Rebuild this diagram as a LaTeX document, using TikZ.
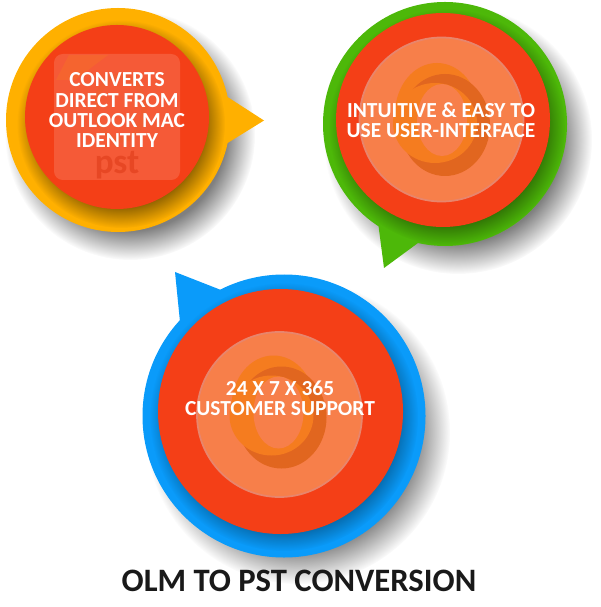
\documentclass[tikz,border=0pt]{standalone}
\usepackage{fontspec}
\setmainfont{Carlito}
\usetikzlibrary{fadings}
\pgfdeclareradialshading{softshading}{\pgfpointorigin}{color(0bp)=(white!50!black);color(19bp)=(white!50!black);color(25bp)=(black);color(50bp)=(black)}
\pgfdeclarefading{softfade}{\pgfuseshading{softshading}}
\definecolor{discred}{HTML}{F43F17}
\definecolor{discyellow}{HTML}{FFB000}
\definecolor{discgreen}{HTML}{4DB809}
\definecolor{discblue}{HTML}{0A9BFA}
\definecolor{paleorange}{HTML}{F77F4A}
\definecolor{rimorange}{HTML}{E8856C}
\definecolor{logoorange}{HTML}{F57C1F}
\definecolor{logodark}{HTML}{E1661F}
\tikzset{
  softshadow/.style={fill=black,path fading=softfade,fit fading=true},
  caption/.style={text=white,font=\fontsize{12.2}{11.4}\selectfont\bfseries,align=center,inner sep=0pt},
  title/.style={text=black!90,font=\fontsize{18.6}{22}\selectfont\bfseries,inner sep=0pt}
}
\begin{document}
\begin{tikzpicture}[x=0.02cm,y=-0.02cm]
 \useasboundingbox (0,0) rectangle (600,607);
 % shadows on the page
 \fill[softshadow] (130,135) circle (125);
 \fill[softshadow] (458,140) circle (134);
 \fill[softshadow] (298,432) circle (152);
 % yellow bubble
 \fill[discyellow] (226,96)--(264,120.5)--(226,144)--cycle;
 \fill[discyellow] (118,120) circle (112);
 \begin{scope}
  \clip (118,120) circle (112);
  \fill[softshadow] (121,124) circle (104);
 \end{scope}
 \fill[discred] (117,117) circle (92);
 \fill[white,opacity=.14,rounded corners=5pt] (54,54) rectangle (180,180);
 \fill[logoorange,opacity=.3] (69,55)--(108,55)--(75,80)--(56,80)--cycle;
 \draw[logodark,opacity=.2,line width=3pt] (120,108) ellipse (24 and 32);
 \node[inner sep=0pt,text opacity=.55] (pst) at (117,165) {\textcolor{discred!90!black}{\fontsize{20}{20}\selectfont\bfseries pst}};
 % green bubble
 \fill[discgreen] (378,222)--(384,268)--(418,243)--cycle;
 \fill[discgreen] (445,124) circle (122);
 \begin{scope}
  \clip (445,124) circle (122);
  \fill[softshadow] (447,127) circle (118);
 \end{scope}
 \fill[discred] (443,120) circle (107);
 \fill[paleorange,draw=rimorange,line width=1pt] (441.5,119.5) circle (82);
 % blue bubble
 \fill[discblue] (175,272)--(221,290)--(180,322)--cycle;
 \fill[discblue] (284,416) circle (141.5);
 \begin{scope}
  \clip (284,416) circle (141.5);
  \fill[softshadow] (284,417) circle (134);
 \end{scope}
 \fill[discred] (280.5,411.5) circle (122.5);
 \fill[paleorange,draw=rimorange,line width=1pt] (279.5,414.5) circle (82.5);
 % logo swirls
 \foreach \cx/\cy in {442/120,278.5/412.5}{
  \fill[logoorange] (\cx-5,\cy-6) ellipse (42 and 51);
  \fill[logodark] (\cx+3,\cy+5) ellipse (45 and 51);
  \fill[logoorange] (\cx-7,\cy+3) ellipse (42 and 40);
  \fill[paleorange] (\cx,\cy) ellipse (25 and 36);
 }
 % texts
 \node[caption] (converts) at (117,110) {CONVERTS\\DIRECT FROM\\OUTLOOK MAC\\IDENTITY};
 \node[caption] (intuitive) at (441,120) {INTUITIVE \& EASY TO\\USE USER-INTERFACE};
 \node[caption] (support) at (280,398) {24 X 7 X 365\\CUSTOMER SUPPORT};
 \node[title] (olmtopst) at (299,581) {OLM TO PST CONVERSION};
\end{tikzpicture}
\end{document}
